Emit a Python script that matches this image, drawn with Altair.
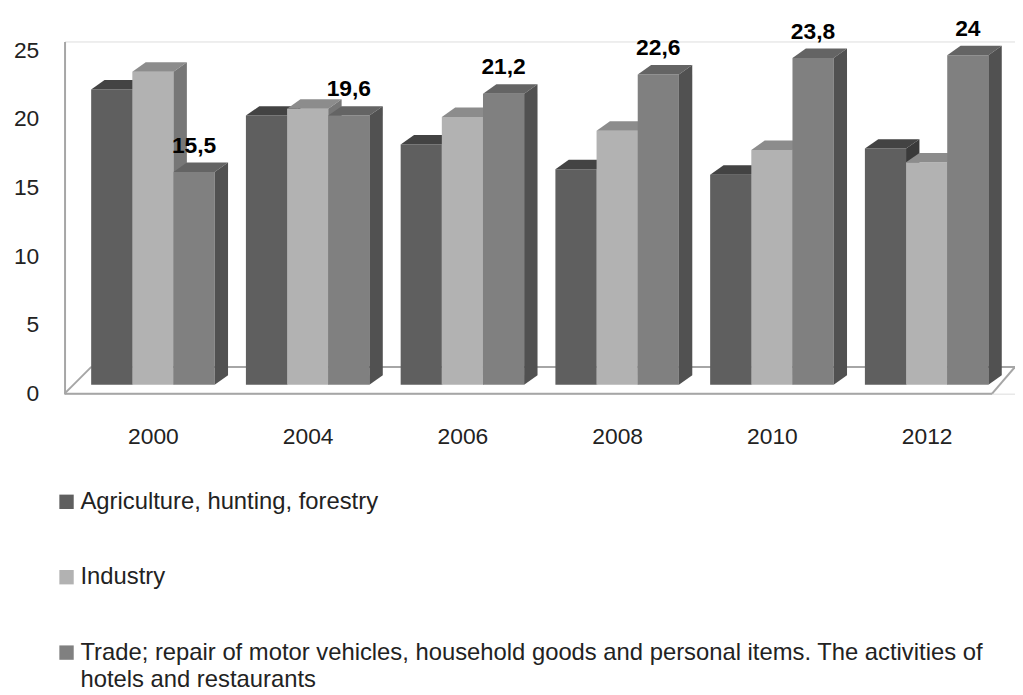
import altair as alt
import pandas as pd

# ---------------- data ----------------
years = ["2000", "2004", "2006", "2008", "2010", "2012"]
series = [
    "Agriculture, hunting, forestry",
    "Industry",
    "Trade; repair of motor vehicles, household goods and personal items. The activities of hotels and restaurants",
]
agri = [21.5, 19.6, 17.5, 15.7, 15.3, 17.2]
industry = [22.8, 20.1, 19.5, 18.5, 17.1, 16.2]
trade = [15.5, 19.6, 21.2, 22.6, 23.8, 24.0]
values = [agri, industry, trade]
labelled_series = 2  # only the Trade series carries value labels

front_colors = ["#5f5f5f", "#b2b2b2", "#808080"]
top_colors = ["#434343", "#8c8c8c", "#646464"]
side_colors = ["#3a3a3a", "#777777", "#515151"]

# ---------------- geometry (in scale units) ----------------
BAR_W = 0.266      # bar width, in category units
DEPTH_X = 0.0865   # 3-D depth, horizontal, category units
DEPTH_Y = 0.686    # 3-D depth, vertical, value units
X_DOM = [-0.571, 5.571]
Y_DOM = [-0.65, 25]
FONT = "Liberation Sans"

fronts, polys, labels = [], [], []
for j, s in enumerate(series):
    for i, y in enumerate(years):
        v = values[j][i]
        L = i + (j - 1.5) * BAR_W
        R = L + BAR_W
        fronts.append(dict(series=s, x=L, x2=R, y0=0.0, v=v, order=j))
        pid = f"{j}-{i}"
        # top face (parallelogram) as a vertical area
        for px, lo, hi in [(L, v, v), (L + DEPTH_X, v, v + DEPTH_Y),
                           (R, v, v + DEPTH_Y), (R + DEPTH_X, v + DEPTH_Y, v + DEPTH_Y)]:
            polys.append(dict(sid=j, pid="t" + pid, x=px, lo=lo, hi=hi, shade=top_colors[j]))
        # side face
        for px, lo, hi in [(R, 0.0, v), (R + DEPTH_X, DEPTH_Y, v + DEPTH_Y)]:
            polys.append(dict(sid=j, pid="s" + pid, x=px, lo=lo, hi=hi, shade=side_colors[j]))
        if j == labelled_series:
            labels.append(dict(x=L + BAR_W / 2, y=v + DEPTH_Y,
                               text=(f"{v:g}").replace(".", ",")))

fronts = pd.DataFrame(fronts)
polys = pd.DataFrame(polys)
labels = pd.DataFrame(labels)

# floor outline of the 3-D plot area
floor_x = [-0.571, -0.398, -0.571, 5.423]
floor_x2 = [5.423, 5.571, -0.398, 5.571]
floor_y = [-0.65, 1.30, -0.65, -0.65]
floor_y2 = [-0.65, 1.30, 1.30, 1.30]
floor = pd.DataFrame(dict(x=floor_x, x2=floor_x2, y=floor_y, y2=floor_y2))

# ---------------- scales / axes ----------------
year_expr = "[" + ",".join(f"'{y}'" for y in years) + "][datum.value]"
xscale = alt.Scale(domain=X_DOM, nice=False, zero=False)
yscale = alt.Scale(domain=Y_DOM, nice=False, zero=False)

x_axis = alt.Axis(values=list(range(len(years))), labelExpr=year_expr, title=None,
                  domain=False, ticks=False, grid=False, labelFlush=False,
                  labelOverlap=False, labelPadding=32, labelFontSize=23,
                  labelFont=FONT, labelColor="#222222")
y_axis = alt.Axis(values=[0, 5, 10, 15, 20, 25], title=None, grid=False, ticks=False,
                  domain=True, domainColor="#a6a6a6", domainWidth=2,
                  labelPadding=26, labelOffset=9, labelFlush=False, labelOverlap=False,
                  labelFontSize=23, labelFont=FONT, labelColor="#222222")

l1 = "Trade; repair of motor vehicles, household goods and personal items. The activities of"
l2 = "hotels and restaurants"
legend_expr = f"datum.label == '{series[2]}' ? ['{l1}', '{l2}'] : datum.label"

color = alt.Color(
    "series:N",
    scale=alt.Scale(domain=series, range=front_colors),
    legend=alt.Legend(
        title=None, orient="none", legendX=-10, legendY=452, direction="vertical",
        symbolType="square", symbolSize=210, symbolStrokeWidth=0, labelFont=FONT,
        labelFontSize=24, labelColor="#222222", labelLimit=2000, labelOffset=2,
        rowPadding=52, padding=0, labelExpr=legend_expr,
    ),
)

floor_layer = alt.Chart(floor).mark_rule(color="#a6a6a6", strokeWidth=2).encode(
    x=alt.X("x:Q", scale=xscale, axis=x_axis),
    x2="x2:Q",
    y=alt.Y("y:Q", scale=yscale, axis=y_axis),
    y2="y2:Q",
)

layers = [floor_layer]
for j in range(len(series)):
    front = alt.Chart(fronts[fronts.order == j]).mark_rect().encode(
        x=alt.X("x:Q", scale=xscale), x2="x2:Q",
        y=alt.Y("y0:Q", scale=yscale), y2="v:Q",
        color=color,
    )
    faces = alt.Chart(polys[polys.sid == j]).mark_area(orient="vertical", interpolate="linear").encode(
        x=alt.X("x:Q", scale=xscale),
        y=alt.Y("lo:Q", scale=yscale, stack=None),
        y2="hi:Q",
        detail="pid:N",
        fill=alt.Fill("shade:N", scale=None),
    )
    layers += [front, faces]

text_layer = alt.Chart(labels).mark_text(
    fontWeight="bold", fontSize=23, font=FONT, baseline="alphabetic", dy=-10, color="#000000"
).encode(
    x=alt.X("x:Q", scale=xscale),
    y=alt.Y("y:Q", scale=yscale),
    text="text:N",
)
layers.append(text_layer)

chart = alt.layer(*layers).properties(
    width=958, height=355,
    autosize=alt.AutoSizeParams(type="none"),
    padding={"left": 57, "top": 31, "right": 0, "bottom": 301},
    background="white",
).configure_view(stroke=None).configure(style={"guide-label": {"lineHeight": 28}})

chart.save("out.html", embed_options={"renderer": "svg", "actions": False})
